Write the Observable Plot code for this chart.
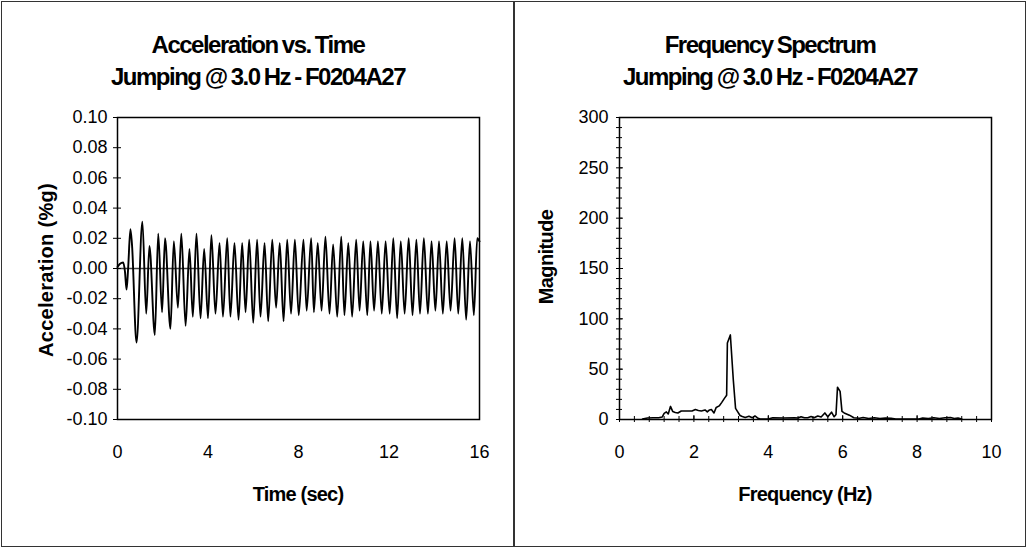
<!DOCTYPE html>
<html>
<head>
<meta charset="utf-8">
<script src="https://cdn.jsdelivr.net/npm/d3@7"></script>
<script src="https://cdn.jsdelivr.net/npm/@observablehq/plot@0.6"></script>
<style>
  html, body { margin: 0; padding: 0; background: #fff; }
  #wrap { position: relative; width: 1027px; height: 548px; overflow: hidden;
          font-family: "Liberation Sans", Arial, sans-serif; color: #000; }
  #outer { position: absolute; left: 1px; top: 1px; width: 1025px; height: 546px;
           border: 1.5px solid #333; box-sizing: border-box; }
  #divider { position: absolute; left: 513px; top: 1px; width: 1.5px; height: 546px; background: #333; }
  .chart { position: absolute; top: 0; }
  .title { position: absolute; font-weight: bold; font-size: 24px; line-height: 24px;
           letter-spacing: -1.5px; word-spacing: -1px; white-space: nowrap; transform: translateX(-50%); }
  .xtitle { position: absolute; font-weight: bold; font-size: 20px; line-height: 20px;
            letter-spacing: -0.8px; white-space: nowrap; transform: translateX(-50%); }
  .ytitle { position: absolute; font-weight: bold; font-size: 20px; line-height: 20px;
            letter-spacing: -0.6px; white-space: nowrap; transform: translate(-50%, -50%) rotate(-90deg); }
</style>
</head>
<body>
<div id="wrap">
  <div id="outer"></div>
  <div id="divider"></div>
  <div id="left" class="chart" style="left:0px"></div>
  <div id="right" class="chart" style="left:513px"></div>
  <div class="title" style="left:258px; top:33px">Acceleration vs. Time</div>
  <div class="title" style="left:258px; top:65px">Jumping @ 3.0 Hz - F0204A27</div>
  <div class="title" style="left:770px; top:33px">Frequency Spectrum</div>
  <div class="title" style="left:770px; top:65px">Jumping @ 3.0 Hz - F0204A27</div>
  <div class="ytitle" style="left:46px; top:270px; letter-spacing:0.3px">Acceleration (%g)</div>
  <div class="ytitle" style="left:546px; top:257px">Magnitude</div>
  <div class="xtitle" style="left:298px; top:484px">Time (sec)</div>
  <div class="xtitle" style="left:805px; top:484px">Frequency (Hz)</div>
</div>
<script>
// ---- Left chart: acceleration time history (peaks/troughs)
const accTime = [0, 0.1, 0.25, 0.33, 0.40, 0.47, 0.57, 0.64, 0.84, 1.10, 1.27, 1.41, 1.65, 1.80, 1.97, 2.10,
  2.34, 2.49, 2.67, 2.82, 3.01, 3.18, 3.33, 3.49, 3.67, 3.83, 4.00, 4.15, 4.33, 4.51, 4.66, 4.85, 4.99,
  5.17, 5.35, 5.51, 5.66, 5.82, 6.00, 6.17, 6.32, 6.50, 6.66, 6.84, 7.01, 7.17, 7.34, 7.50, 7.67, 7.84,
  8.01, 8.22, 8.36, 8.56, 8.68, 8.85, 9.02, 9.19, 9.37, 9.53, 9.71, 9.89, 10.03, 10.20, 10.37, 10.55,
  10.70, 10.86, 11.04, 11.18, 11.34, 11.51, 11.68, 11.85, 12.03, 12.19, 12.36, 12.52, 12.69, 12.87,
  13.04, 13.21, 13.37, 13.54, 13.72, 13.88, 14.05, 14.21, 14.38, 14.55, 14.72, 14.90, 15.06, 15.24,
  15.41, 15.58, 15.75, 15.90, 16.00];
const accValue = [0.001, 0.003, 0.004, -0.002, -0.014, 0.000, 0.026, 0.016, -0.049, 0.031, -0.030, 0.015,
  -0.044, 0.023, -0.029, 0.020, -0.040, 0.018, -0.026, 0.023, -0.038, 0.013, -0.032, 0.023, -0.033,
  0.013, -0.033, 0.022, -0.030, 0.017, -0.032, 0.020, -0.032, 0.017, -0.034, 0.017, -0.029, 0.019,
  -0.036, 0.019, -0.032, 0.017, -0.035, 0.019, -0.026, 0.017, -0.035, 0.019, -0.030, 0.019, -0.031,
  0.019, -0.028, 0.020, -0.029, 0.017, -0.028, 0.021, -0.030, 0.016, -0.032, 0.021, -0.031, 0.017,
  -0.032, 0.019, -0.028, 0.018, -0.031, 0.018, -0.028, 0.018, -0.030, 0.018, -0.030, 0.020, -0.033,
  0.018, -0.030, 0.020, -0.031, 0.019, -0.030, 0.020, -0.030, 0.018, -0.028, 0.018, -0.030, 0.018,
  -0.028, 0.020, -0.030, 0.020, -0.034, 0.018, -0.031, 0.020, 0.018];
const accTicks = [-0.10, -0.08, -0.06, -0.04, -0.02, 0.00, 0.02, 0.04, 0.06, 0.08, 0.10];
const timeTicks = [0, 4, 8, 12, 16];

// ---- Right chart: frequency spectrum
const freqHz = [0.62, 0.75, 0.90, 1.05, 1.15, 1.20, 1.26, 1.31, 1.37, 1.43, 1.50, 1.57, 1.66, 1.80, 1.95,
  2.04, 2.12, 2.20, 2.30, 2.36, 2.42, 2.47, 2.54, 2.60, 2.68, 2.75, 2.82, 2.88, 2.90, 2.98, 3.06, 3.12,
  3.17, 3.24, 3.30, 3.38, 3.48, 3.57, 3.64, 3.71, 3.78, 4.00, 4.12, 4.40, 4.70, 4.80, 4.88, 4.97, 5.06,
  5.15, 5.23, 5.33, 5.42, 5.52, 5.60, 5.70, 5.77, 5.82, 5.86, 5.93, 5.98, 6.04, 6.18, 6.30, 6.45, 6.55,
  6.70, 6.85, 7.00, 7.15, 7.30, 7.43, 8.05, 8.15, 8.30, 8.45, 8.60, 8.75, 8.90, 9.00, 9.10, 9.20];
const magnitude = [0.5, 1.5, 1.7, 1.8, 2.5, 6, 7.5, 5.5, 13, 8, 7, 6.5, 8.5, 8.5, 8.5,
  10, 9, 8.5, 9.5, 7.5, 9.5, 10, 6.5, 12, 13.5, 17, 21, 24, 76, 84, 39, 11,
  8, 4, 3, 2, 3.3, 1.7, 3.5, 1.5, 0.5, 0.5, 1.7, 1.5, 1.7, 1.5, 2.8, 1.7, 1.8,
  3, 1.7, 3.5, 2.5, 6.5, 2.7, 7.3, 2.7, 5, 32, 28, 8, 6.5, 4.3, 1.7, 1.2, 2,
  1, 1.8, 1, 1.5, 1.2, 0.5, 0.5, 1.5, 1, 1.8, 1, 1.7, 2, 1, 1.5, 0.5];
const magTicks = [0, 50, 100, 150, 200, 250, 300];
const magMinorTicks = d3.range(0, 301, 10);
const freqTicks = [0, 2, 4, 6, 8, 10];
const freqMinorTicks = d3.range(0, 25.5).map(i => +(i * 0.4).toFixed(1));

const accData = accTime.map((t, i) => ({t, a: accValue[i]}));
const specData = freqHz.map((f, i) => ({f, m: magnitude[i]}));

const font = '"Liberation Sans", Arial, sans-serif';
const baseStyle = {fontFamily: font, fontSize: "18px", background: "transparent", color: "#000", overflow: "visible"};

// plot-area sizes (used for tick insets so ticks cross the axis line)
const leftW = 513 - 117 - 34, rightW = 513 - 106 - 35, plotH = 548 - 117 - 129;

const left = Plot.plot({
  width: 513, height: 548,
  marginLeft: 117, marginRight: 34, marginTop: 117, marginBottom: 129,
  style: baseStyle,
  x: {domain: [0, 16], ticks: timeTicks, tickSize: 0, tickPadding: 26, tickFormat: d => String(d), label: null},
  y: {domain: [-0.1, 0.1], ticks: accTicks, tickSize: 4, tickPadding: 6, tickFormat: d => d.toFixed(2), label: null},
  marks: [
    Plot.ruleY([0], {stroke: "#444", strokeWidth: 1.5}),
    Plot.line(accData, {x: "t", y: "a", stroke: "#000", strokeWidth: 1.9, curve: "monotone-x"}),
    Plot.tickY(accTicks, {y: d => d, insetRight: leftW - 4, stroke: "#000", strokeWidth: 1}),
    Plot.frame({stroke: "#000", strokeWidth: 1.5})
  ]
});
document.getElementById("left").appendChild(left);

const right = Plot.plot({
  width: 513, height: 548,
  marginLeft: 106, marginRight: 35, marginTop: 117, marginBottom: 129,
  style: baseStyle,
  x: {domain: [0, 10], ticks: freqMinorTicks, tickSize: 3, tickPadding: 23,
      tickFormat: d => (Math.abs(d % 2) < 1e-6 ? String(d) : ""), label: null},
  y: {domain: [0, 300], ticks: magMinorTicks, tickSize: 3, tickPadding: 8,
      tickFormat: d => (d % 50 === 0 ? String(d) : ""), label: null},
  marks: [
    Plot.line(specData, {x: "f", y: "m", stroke: "#000", strokeWidth: 1.6}),
    Plot.tickY(magMinorTicks, {y: d => d, insetRight: rightW - 3, stroke: "#000", strokeWidth: 1}),
    Plot.tickY(magTicks, {y: d => d, insetRight: rightW - 4, stroke: "#000", strokeWidth: 1}),
    Plot.tickX(freqMinorTicks, {x: d => d, insetTop: plotH - 3, stroke: "#000", strokeWidth: 1}),
    Plot.tickX(freqTicks, {x: d => d, insetTop: plotH - 4, stroke: "#000", strokeWidth: 1}),
    Plot.frame({stroke: "#000", strokeWidth: 1.5})
  ]
});
document.getElementById("right").appendChild(right);
</script>
</body>
</html>
